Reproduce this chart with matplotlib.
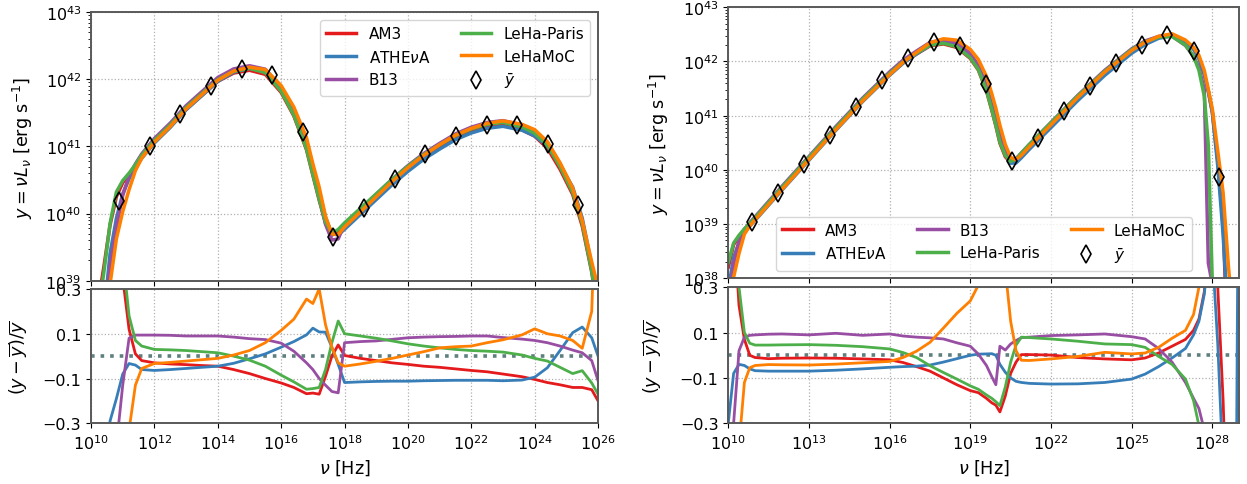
import numpy as np
import matplotlib.pyplot as plt
from matplotlib.ticker import NullLocator, FixedLocator

names = ["AM3", r"ATHE$\nu$A", "B13", "LeHa-Paris", "LeHaMoC"]
colors = ["#e41a1c", "#377eb8", "#984ea3", "#4daf4a", "#ff7f00"]

# ---------------- left panel (log10 nu, log10 ybar, relative residuals)
grid_a = [10.2, 10.4, 10.6, 10.8, 11.0, 11.2, 11.4, 11.6, 12.0, 12.5, 13.0, 13.5,
          14.0, 14.5, 15.0, 15.5, 16.0, 16.4, 16.8, 17.0, 17.2, 17.4, 17.6, 17.8,
          18.0, 18.5, 19.0, 19.5, 20.0, 20.5, 21.0, 21.5, 22.0, 22.5, 23.0, 23.6,
          24.0, 24.4, 24.8, 25.2, 25.5, 25.8, 26.0]
mean_a = [38.2, 38.85, 39.55, 40.02, 40.33, 40.53, 40.70, 40.85, 41.08, 41.31, 41.57, 41.78,
          41.99, 42.12, 42.17, 42.12, 41.86, 41.52, 41.03, 40.65, 40.28, 39.9, 39.68, 39.7,
          39.82, 40.04, 40.26, 40.48, 40.68, 40.86, 41.01, 41.15, 41.25, 41.32, 41.35, 41.29,
          41.2, 41.03, 40.72, 40.35, 39.88, 39.2, 38.6]
res_am3_a = [1.5, 1.2, 0.9, 0.7, 0.35, 0.12, 0.01, -0.02, -0.03, -0.035, -0.038, -0.042,
             -0.045, -0.06, -0.078, -0.1, -0.12, -0.14, -0.168, -0.165, -0.17, -0.09, 0.0, 0.05,
             0.003, -0.01, -0.02, -0.03, -0.037, -0.045, -0.05, -0.057, -0.064, -0.07, -0.08, -0.092,
             -0.104, -0.118, -0.128, -0.14, -0.14, -0.15, -0.2]
res_athena_a = [-0.75, -0.6, -0.29, -0.19, -0.08, -0.033, -0.04, -0.06, -0.064, -0.06, -0.055, -0.05,
                -0.045, -0.032, -0.012, 0.01, 0.04, 0.065, 0.095, 0.125, 0.108, 0.107, 0.04, -0.037,
                -0.118, -0.115, -0.113, -0.112, -0.112, -0.11, -0.109, -0.108, -0.108, -0.108, -0.11, -0.107,
                -0.094, -0.052, 0.025, 0.105, 0.13, 0.082, 0.0]
res_b13_a = [-0.85, -0.7, -0.55, -0.4, -0.13, 0.08, 0.094, 0.094, 0.094, 0.093, 0.09, 0.09,
             0.09, 0.085, 0.078, 0.074, 0.058, 0.022, -0.03, -0.06, -0.1, -0.13, -0.158, -0.164,
             0.06, 0.065, 0.068, 0.075, 0.082, 0.085, 0.087, 0.088, 0.09, 0.09, 0.083, 0.076,
             0.07, 0.06, 0.045, 0.027, 0.015, -0.02, -0.11]
res_lehap_a = [0.8, 0.8, 1.0, 1.0, 0.45, 0.18, 0.07, 0.045, 0.03, 0.028, 0.025, 0.02,
               0.015, 0.0, -0.018, -0.045, -0.085, -0.115, -0.148, -0.145, -0.14, -0.06, 0.06, 0.157,
               0.1, 0.09, 0.08, 0.068, 0.055, 0.045, 0.037, 0.03, 0.025, 0.022, 0.018, 0.005,
               -0.01, -0.022, -0.05, -0.078, -0.065, -0.12, -0.17]
res_lehamoc_a = [-0.95, -0.85, -0.75, -0.6, -0.5, -0.33, -0.13, -0.055, -0.033, -0.028, -0.022, -0.016,
                 -0.01, 0.005, 0.025, 0.06, 0.115, 0.165, 0.255, 0.235, 0.3, 0.14, 0.04, -0.03,
                 -0.045, -0.035, -0.023, -0.01, 0.005, 0.02, 0.037, 0.042, 0.045, 0.06, 0.073, 0.095,
                 0.122, 0.1, 0.09, 0.07, 0.035, 0.2, 1.0]
mark_nu_a = [10.88, 11.85, 12.81, 13.79, 14.75, 15.71, 16.69, 17.65, 18.61, 19.59,
             20.55, 21.51, 22.48, 23.45, 24.41, 25.38]
mark_y_a = [40.19, 41.00, 41.48, 41.90, 42.16, 42.06, 41.21, 39.65, 40.09, 40.52,
            40.88, 41.15, 41.32, 41.32, 41.03, 40.13]

# ---------------- right panel
grid_b = [10.0, 10.2, 10.4, 10.6, 10.8, 11.0, 11.5, 12.0, 13.0, 14.0, 15.0, 16.0,
          16.5, 17.0, 17.5, 18.0, 18.5, 19.0, 19.3, 19.6, 19.8, 19.95, 20.1, 20.3,
          20.5, 20.7, 20.9, 21.2, 22.0, 23.0, 24.0, 25.0, 25.5, 26.0, 26.5, 27.0,
          27.3, 27.5, 27.7, 27.85, 28.0, 28.2, 28.4, 28.6, 28.8, 28.9, 29.0]
mean_b = [37.95, 38.42, 38.68, 38.87, 38.99, 39.1, 39.38, 39.66, 40.21, 40.76, 41.29, 41.77,
          41.99, 42.16, 42.32, 42.37, 42.32, 42.13, 41.92, 41.55, 41.2, 40.92, 40.62, 40.33,
          40.17, 40.18, 40.28, 40.44, 40.84, 41.34, 41.8, 42.2, 42.35, 42.45, 42.48, 42.35,
          42.19, 42.0, 41.66, 41.28, 40.89, 40.05, 39.1, 37.6, 36.5, 36.0, 35.5]
res_am3_b = [0.8, 0.6, 0.22, 0.07, 0.0, -0.01, -0.015, -0.013, -0.012, -0.013, -0.016, -0.02,
             -0.032, -0.05, -0.07, -0.1, -0.13, -0.156, -0.165, -0.19, -0.21, -0.22, -0.25, -0.18,
             -0.08, -0.03, 0.003, 0.003, 0.001, -0.01, -0.016, -0.02, -0.012, 0.01, 0.04, 0.07,
             0.11, 0.16, 0.28, 0.5, 0.5, 0.3, -0.2, -0.95, -0.99, -0.99, -0.99]
res_athena_b = [-0.3, -0.08, -0.04, -0.045, -0.06, -0.068, -0.07, -0.07, -0.07, -0.066, -0.06, -0.053,
                -0.05, -0.048, -0.043, -0.03, -0.015, 0.0, 0.005, 0.006, 0.007, 0.0, -0.04, -0.075,
                -0.1, -0.115, -0.12, -0.124, -0.127, -0.126, -0.12, -0.105, -0.083, -0.05, -0.012, 0.03,
                0.09, 0.15, 0.27, 0.45, 0.45, 0.05, -0.5, -0.7, -0.6, -0.4, 1.5]
res_b13_b = [-0.6, -0.3, 0.02, 0.08, 0.088, 0.09, 0.093, 0.094, 0.09, 0.097, 0.088, 0.094,
             0.085, 0.08, 0.077, 0.072, 0.055, 0.04, 0.005, -0.045, -0.095, -0.13, 0.04, 0.023,
             0.05, 0.065, 0.078, 0.08, 0.087, 0.09, 0.094, 0.082, 0.072, 0.03, -0.03, -0.12,
             -0.19, -0.235, -0.33, -0.999, -0.999, -0.999, -0.999, -0.999, -0.999, -0.999, -0.999]
res_lehap_b = [1.2, 0.7, 0.3, 0.1, 0.053, 0.045, 0.045, 0.046, 0.047, 0.044, 0.038, 0.028,
               0.012, -0.01, -0.046, -0.076, -0.105, -0.135, -0.15, -0.175, -0.19, -0.205, -0.222, -0.14,
               -0.03, 0.045, 0.08, 0.078, 0.072, 0.062, 0.05, 0.047, 0.035, -0.005, -0.04, -0.105,
               -0.2, -0.31, -0.5, -0.85, -0.999, -0.999, -0.999, -0.999, -0.999, -0.999, -0.999]
res_lehamoc_b = [-0.85, -0.6, -0.4, -0.12, -0.055, -0.045, -0.041, -0.042, -0.043, -0.039, -0.033, -0.027,
                 -0.01, 0.018, 0.057, 0.12, 0.185, 0.24, 0.31, 0.5, 0.6, 0.65, 0.6, 0.38,
                 0.15, 0.02, -0.022, -0.023, -0.016, -0.005, 0.013, 0.006, 0.01, 0.035, 0.075, 0.11,
                 0.18, 0.3, 0.5, 0.6, 0.7, 1.0, 2.0, 3.0, 3.0, 3.0, 3.0]
mark_nu_b = [10.88, 11.85, 12.81, 13.78, 14.74, 15.71, 16.67, 17.64, 18.61, 19.57,
             20.54, 21.50, 22.47, 23.44, 24.40, 25.37, 26.33, 27.30, 28.26]
mark_y_b = [39.03, 39.58, 40.11, 40.64, 41.16, 41.65, 42.06, 42.36, 42.29, 41.58,
            40.16, 40.59, 41.08, 41.55, 41.97, 42.31, 42.49, 42.19, 39.87]

plt.rcParams["font.size"] = 11.5
plt.rcParams["axes.labelsize"] = 12.7
plt.rcParams["axes.edgecolor"] = "0.35"
plt.rcParams["axes.linewidth"] = 1.4

fig = plt.figure(figsize=(12.47, 4.85), dpi=100)


def draw(top_pos, bot_pos, grid, mean, residuals, mark_nu, mark_y,
         xlim, ylim, xticks, legend_kw, lab_x):
    top = fig.add_axes(top_pos)
    bot = fig.add_axes(bot_pos, sharex=top)
    nu = 10.0 ** np.array(grid)
    ybar = 10.0 ** np.array(mean)
    for name, col, res in zip(names, colors, residuals):
        r = np.array(res)
        top.plot(nu, ybar * (1 + r), color=col, lw=2.5, label=name)
        bot.plot(nu, r, color=col, lw=2.0)
    top.plot(10.0 ** np.array(mark_nu), 10.0 ** np.array(mark_y), ls="none",
             marker="d", ms=9, mfc="none", mec="black", mew=1.2, label=r"$\bar{y}$")
    bot.axhline(0, ls=":", lw=2.6, color="#5f7f7f", zorder=0.5)

    top.set_xscale("log")
    top.set_yscale("log")
    top.set_xlim(*xlim)
    top.set_ylim(*ylim)
    top.xaxis.set_major_locator(FixedLocator(xticks))
    top.xaxis.set_minor_locator(NullLocator())
    top.tick_params(labelbottom=False)
    top.grid(True, ls=":", color="#b0b0b0", lw=0.9)
    top.set_ylabel(r"$y=\nu L_\nu$ [erg s$^{-1}$]")
    top.yaxis.set_label_coords(lab_x[0], 0.5)
    top.legend(**legend_kw)

    bot.set_ylim(-0.3, 0.3)
    bot.set_yticks([-0.3, -0.1, 0.1, 0.3])
    bot.set_yticklabels(["\u22120.3", "\u22120.1", "0.1", "0.3"])
    bot.grid(True, ls=":", color="#b0b0b0", lw=0.9)
    bot.set_xlabel(r"$\nu$ [Hz]")
    bot.set_ylabel(r"$(y-\overline{y})/\overline{y}$")
    bot.yaxis.set_label_coords(lab_x[1], 0.5)


draw([0.0730, 0.4192, 0.4066, 0.5536], [0.0730, 0.1252, 0.4066, 0.2769],
     grid_a, mean_a,
     [res_am3_a, res_athena_a, res_b13_a, res_lehap_a, res_lehamoc_a],
     mark_nu_a, mark_y_a, (1e10, 1e26), (1e39, 1e43),
     10.0 ** np.arange(10, 27, 2),
     dict(loc="upper right", ncol=2, fontsize=11),
     (-0.11, -0.12))

draw([0.5840, 0.4241, 0.4098, 0.5588], [0.5840, 0.1252, 0.4098, 0.2804],
     grid_b, mean_b,
     [res_am3_b, res_athena_b, res_b13_b, res_lehap_b, res_lehamoc_b],
     mark_nu_b, mark_y_b, (1e10, 1e29), (1e38, 1e43),
     10.0 ** np.arange(10, 29, 3),
     dict(loc="lower center", ncol=3, fontsize=11),
     (-0.112, -0.125))

fig.savefig("out.png", dpi=100)
